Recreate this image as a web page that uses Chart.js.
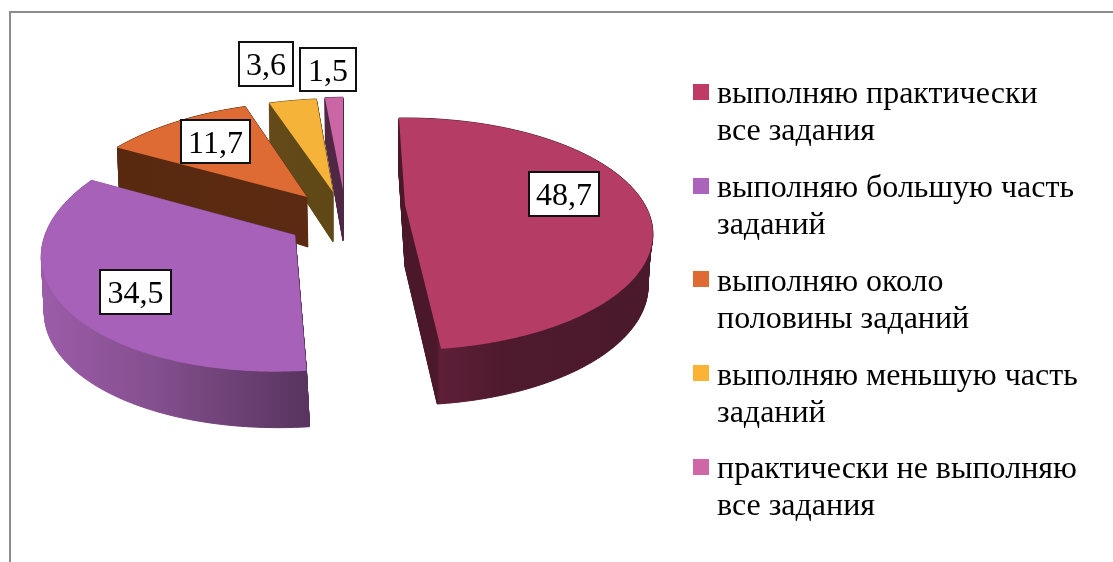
<!DOCTYPE html>
<html><head><meta charset="utf-8">
<style>html,body{margin:0;padding:0;background:#fff}canvas{display:block}</style>
<script src="https://cdn.jsdelivr.net/npm/chart.js@4"></script>
</head><body><canvas id="c" width="1113" height="562"></canvas>
<script>
const categories = [
  ['выполняю практически','все задания'],
  ['выполняю большую часть','заданий'],
  ['выполняю около','половины заданий'],
  ['выполняю меньшую часть','заданий'],
  ['практически не выполняю','все задания']
];
const values = [48.7, 34.5, 11.7, 3.6, 1.5];
const valueLabels = ['48,7','34,5','11,7','3,6','1,5'];
const topColors = ['#b43c65','#a761b8','#dd6b33','#f5b339','#c966a3'];
const legendColors = ['#bf3a64','#ab63bb','#e06a33','#fbb336','#cf66a6'];

// view geometry of each exploded, perspective-tilted slice: top and bottom plane
const planes = [
 {top:{ax:405,ay:205,R:240,Ry:108.75,d:4,sh:0},    bot:{ax:405,ay:267,R:240,Ry:116,d:6.26,sh:0}},
 {top:{ax:295,ay:235,R:250,Ry:123,d:10,sh:-.146},  bot:{ax:298,ay:291,R:250,Ry:123,d:10,sh:-.146}},
 {top:{ax:307,ay:197,R:244,Ry:119,d:4,sh:-.07},    bot:{ax:308,ay:247,R:244,Ry:143,d:4,sh:-.07}},
 {top:{ax:333,ay:192,R:262,Ry:117,d:4,sh:-.104},   bot:{ax:333,ay:242,R:262,Ry:126,d:4,sh:-.104}},
 {top:{ax:343,ay:190,R:240,Ry:116,d:4,sh:-.065},   bot:{ax:343,ay:241,R:240,Ry:126,d:4,sh:-.065}}
];
const sideStops = [
 [[400,'#4a182a'],[437,'#4a182a'],[440,'#5f1f39'],[500,'#4f1a2e'],[650,'#4a192c']],
 [[40,'#9c5ca9'],[150,'#85508f'],[309,'#58345f']],
 [[110,'#58290f'],[310,'#5c2a12']],
 [[260,'#644b18'],[335,'#5f4716']],
 [[320,'#522747'],[345,'#4f2644']]
];
const labelBoxes = [[528,171,72,46],[99,269,73,46],[180,119,71,45],[238,41,56,46],[299,47,58,45]];
const swatchTops = [84,178,271,365,459];
const lineBaselines = [[103,140],[197,234],[291,328],[385,422],[478,515]];
const FONT = '32px "Liberation Serif"';

function project(p, theta, frac){
  const sn = Math.sin(theta), cs = Math.cos(theta), s = p.d/(p.d+cs*frac);
  const dy = -p.Ry*cs*frac*s;
  return [p.ax + p.R*sn*frac*s + p.sh*dy, p.ay + dy];
}
function lerpPlane(a,b,t){
  const o={}; for(const k in a) o[k]=a[k]+(b[k]-a[k])*t; return o;
}
function sector(ctx,p,t0,t1){
  ctx.beginPath(); ctx.moveTo(p.ax,p.ay);
  const n=Math.max(8,Math.ceil((t1-t0)*60));
  for(let i=0;i<=n;i++){const q=project(p,t0+(t1-t0)*i/n,1); ctx.lineTo(q[0],q[1]);}
  ctx.closePath();
}
const pie3d = {
  id:'pie3d',
  beforeDatasetDraw(chart,args){
    const ctx=chart.ctx, arcs=chart.getDatasetMeta(args.index).data;
    ctx.save();
    ctx.fillStyle='#fff'; ctx.fillRect(0,0,chart.width,chart.height);
    ctx.fillStyle='#8c8c8c'; ctx.fillRect(9,11,chart.width-9,2); ctx.fillRect(9,11,2,chart.height-11);
    const order=[4,3,2,1,0];
    for(const i of order){
      const a=arcs[i], t0=a.startAngle+Math.PI/2, t1=a.endAngle+Math.PI/2, pl=planes[i];
      const g=ctx.createLinearGradient(sideStops[i][0][0],0,sideStops[i][sideStops[i].length-1][0],0);
      const x0=sideStops[i][0][0], x1=sideStops[i][sideStops[i].length-1][0];
      for(const st of sideStops[i]) g.addColorStop((st[0]-x0)/(x1-x0),st[1]);
      ctx.fillStyle=g; ctx.strokeStyle=g; ctx.lineWidth=1;
      for(let k=0;k<=70;k++){
        sector(ctx,lerpPlane(pl.bot,pl.top,k/70),t0,t1); ctx.fill(); ctx.stroke();
      }
      ctx.fillStyle=topColors[i];
      sector(ctx,pl.top,t0,t1); ctx.fill();
    }
    ctx.restore();
    return false;
  },
  afterDraw(chart){
    const ctx=chart.ctx; ctx.save();
    ctx.font=FONT; ctx.textBaseline='alphabetic';
    valueLabels.forEach((t,i)=>{
      const b=labelBoxes[i];
      ctx.fillStyle='#fff'; ctx.fillRect(b[0],b[1],b[2],b[3]);
      ctx.strokeStyle='#111'; ctx.lineWidth=2; ctx.strokeRect(b[0]+1,b[1]+1,b[2]-2,b[3]-2);
      ctx.fillStyle='#000'; ctx.textAlign='center';
      ctx.fillText(t,b[0]+b[2]/2,b[1]+b[3]/2+11);
    });
    ctx.textAlign='left';
    chart.data.labels.forEach((lines,i)=>{
      ctx.fillStyle=legendColors[i]; ctx.fillRect(693,swatchTops[i],16,16);
      ctx.fillStyle='#000';
      lines.forEach((l,j)=>ctx.fillText(l,717,lineBaselines[i][j]));
    });
    ctx.restore();
  }
};
new Chart(document.getElementById('c'),{
  type:'pie',
  data:{labels:categories,datasets:[{data:values,backgroundColor:topColors,borderWidth:0}]},
  options:{responsive:false,animation:false,rotation:-1.8,
    plugins:{legend:{display:false},tooltip:{enabled:false}}},
  plugins:[pie3d]
});
</script></body></html>
